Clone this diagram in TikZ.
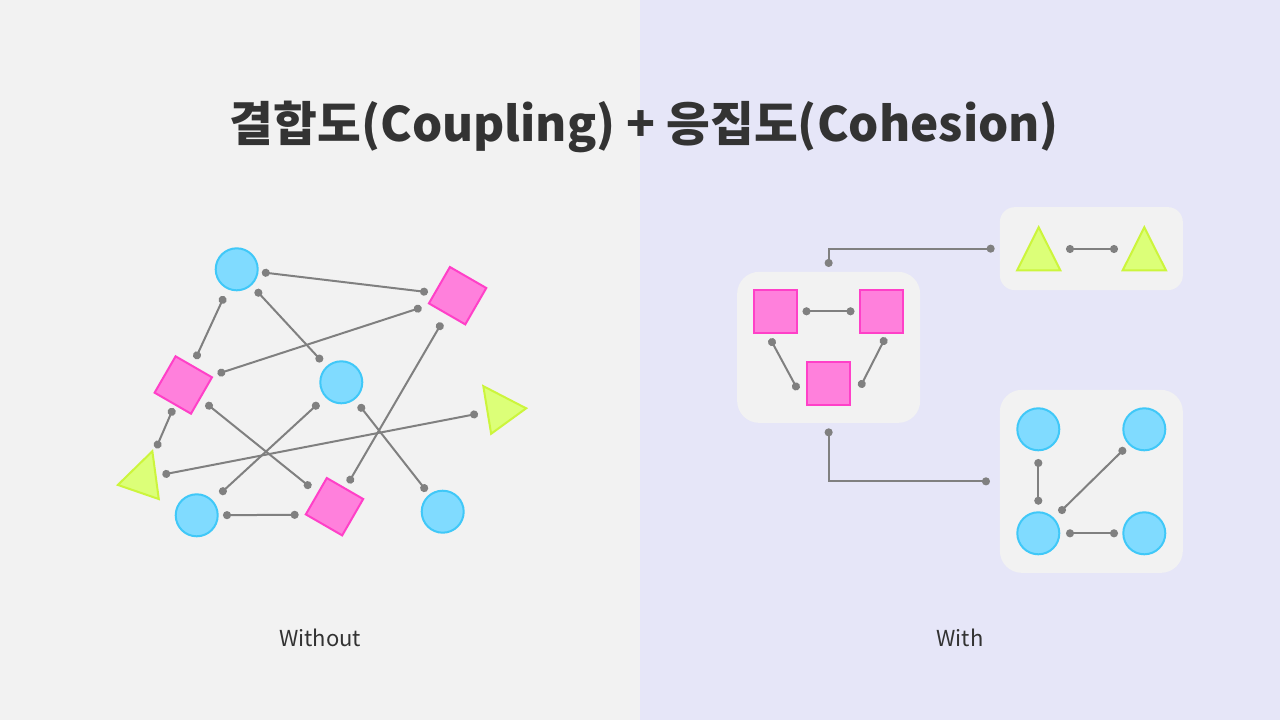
\documentclass[tikz,border=0pt]{standalone}
\usepackage{fontspec}
\setmainfont{Noto Sans CJK KR}
\usepackage{tikz}
\usetikzlibrary{positioning}
\usetikzlibrary{shapes.geometric,arrows.meta}

\definecolor{leftbg}{HTML}{F2F2F2}
\definecolor{rightbg}{HTML}{E6E6F8}
\definecolor{boxfill}{HTML}{F2F2F2}
\definecolor{bluefill}{HTML}{80DBFF}
\definecolor{bluedge}{HTML}{40C8F8}
\definecolor{pinkfill}{HTML}{FF80DC}
\definecolor{pinkedge}{HTML}{FF40C8}
\definecolor{limefill}{HTML}{DCFF78}
\definecolor{limeedge}{HTML}{CCF53C}
\definecolor{linkgray}{HTML}{808080}
\definecolor{textgray}{HTML}{333333}

\begin{document}
\begin{tikzpicture}[x=1pt,y=-1pt,
	circ/.style={circle,draw=bluedge,fill=bluefill,line width=2pt,minimum size=42pt,inner sep=0pt},
	sq/.style={rectangle,draw=pinkedge,fill=pinkfill,line width=2pt,minimum size=42pt,inner sep=0pt},
	tri/.style={regular polygon,regular polygon sides=3,draw=limeedge,fill=limefill,line width=2pt,minimum size=50pt,inner sep=0pt},
	grp/.style={rectangle,fill=boxfill,rounded corners=22pt,minimum width=183pt,inner sep=0pt},
	link/.style={draw=linkgray,line width=2pt,arrows={Circle[length=8pt]-Circle[length=8pt]}},
	gap/.style 2 args={shorten <=#1pt,shorten >=#2pt},
	lbl/.style={text=textgray,font=\fontsize{22}{26}\selectfont}]
	\useasboundingbox (0,0) rectangle (1280,720);
	\fill[leftbg] (0,0) rectangle (640,720);
	\fill[rightbg] (640,0) rectangle (1280,720);

	\node[text=textgray,font=\fontsize{47.6}{54}\selectfont\bfseries] (title) at (644.5,127) {결합도(Coupling) + 응집도(Cohesion)};

	% without
	\node[circ] (a) at (236.7,269.3) {};
	\node[sq,rotate=-30] (b) at (457.6,295.7) {};
	\node[sq,rotate=-30] (c) at (183.3,385) {};
	\node[circ] (d) at (341.3,382.3) {};
	\node[tri,rotate=36,yscale=1.15] (e) at (500.2,409.4) {};
	\node[tri,rotate=-19,yscale=1.15] (f) at (143,478.4) {};
	\node[circ] (g) at (196.7,515.3) {};
	\node[sq,rotate=-30] (h) at (334.5,506.7) {};
	\node[circ] (i) at (442.7,511.7) {};

	\draw[link,gap={25.3}{29.8}] (a.center) -- (b.center);
	\draw[link,gap={29.7}{28.7}] (a.center) -- (c.center);
	\draw[link,gap={27.9}{28.3}] (a.center) -- (d.center);
	\draw[link,gap={36}{37.9}] (c.center) -- (b.center);
	\draw[link,gap={25.2}{32.9}] (c.center) -- (f.center);
	\draw[link,gap={29}{30.4}] (c.center) -- (h.center);
	\draw[link,gap={30.6}{31.6}] (d.center) -- (g.center);
	\draw[link,gap={28.4}{26}] (d.center) -- (i.center);
	\draw[link,gap={31.3}{27.3}] (b.center) -- (h.center);
	\draw[link,gap={19.7}{22.6}] (f.center) -- (e.center);
	\draw[link,gap={26.3}{5.8}] (g.center) -- (h.south west);

	\node[lbl] (without) at (320,638) {Without};

	% with
	\node[grp,minimum height=151pt] (sqbox) at (828.65,347.35) {};
	\node[grp,minimum height=83pt,rounded corners=15pt] (tribox) at (1091.35,248.65) {};
	\node[grp,minimum height=183pt] (cbox) at (1091.35,481.35) {};

	\node[sq,minimum size=42.5pt] (s1) at (775.5,311.3) {};
	\node[sq,minimum size=42.5pt] (s2) at (881.5,311.3) {};
	\node[sq,minimum size=42.5pt] (s3) at (828.5,383.3) {};
	\draw[link,gap={27}{27}] (s1.center) -- (s2.center);
	\draw[link,gap={5.7}{17.7}] (s1.250) -- (s3.south west);
	\draw[link,gap={4.4}{20.2}] (s2.285) -- (s3.south east);

	\node[tri,yscale=1.15] (t1) at (1038.7,256) {};
	\node[tri,yscale=1.15] (t2) at (1144.3,256) {};
	\draw[link,gap={27.3}{26.3}] ([yshift=7pt]t1.center) -- ([yshift=7pt]t2.center);

	\node[circ] (c1) at (1038.3,429.3) {};
	\node[circ] (c2) at (1144.3,429.3) {};
	\node[circ] (c3) at (1038.3,533.3) {};
	\node[circ] (c4) at (1144.3,533.3) {};
	\draw[link,gap={29.7}{28.6}] (c1.center) -- (c3.center);
	\draw[link,gap={29.2}{26.7}] (c3.center) -- (c2.center);
	\draw[link,gap={27.7}{26.3}] (c3.center) -- (c4.center);

	\draw[link,gap={4.7}{5}] (sqbox.north) |- (tribox.west);
	\draw[link,gap={5.3}{9.7}] (sqbox.south) |- (cbox.west);

	\node[lbl] (with) at (960,638) {With};
\end{tikzpicture}
\end{document}
